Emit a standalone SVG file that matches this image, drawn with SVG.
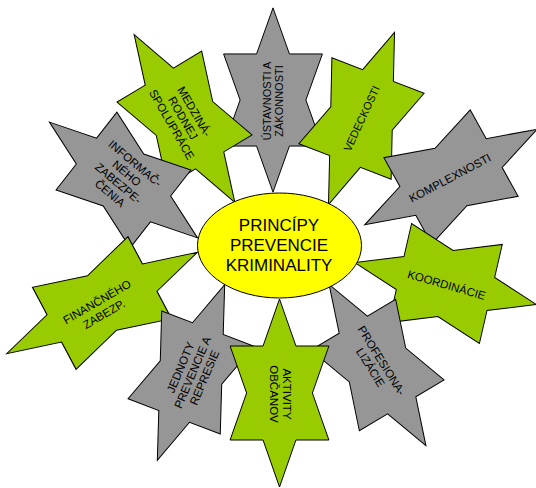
<svg xmlns="http://www.w3.org/2000/svg" xmlns:xlink="http://www.w3.org/1999/xlink" width="536" height="488" viewBox="0 0 536 488">
<style>
.g{fill:#99CC00;stroke:#000;stroke-width:1;vector-effect:non-scaling-stroke}
.s{fill:#969696;stroke:#000;stroke-width:1;vector-effect:non-scaling-stroke}
text{font-family:"Liberation Sans",Arial,sans-serif;font-size:11.5px;fill:#000;text-anchor:middle}
.c{font-size:17px}
</style>
<defs>
<polygon id="star" points="0,-94 16.45,-47 49.4,-47 32.9,0 49.4,47 16.45,47 0,94 -16.45,47 -49.4,47 -32.9,0 -49.4,-47 -16.45,-47"/>
</defs>
<g id="connectors"></g>
<g id="n-ustavnosti">
<use xlink:href="#star" href="#star" class="s" transform="translate(273,100) scale(1,0.98)"/>
<text transform="translate(273,101) rotate(-90)" style="font-size:11px"><tspan x="0" y="-2">ÚSTAVNOSTI A</tspan><tspan x="0" y="10">ZÁKONNOSTI</tspan></text>
</g>
<g id="n-medzinarodnej">
<use xlink:href="#star" href="#star" class="g" transform="translate(184.5,118.5) rotate(-31) scale(1,1.04)"/>
<text transform="translate(183,118) rotate(60)"><tspan x="0" y="-9">MEDZINÁ-</tspan><tspan x="0" y="4">RODNEJ</tspan><tspan x="0" y="17">SPOLUPRÁCE</tspan></text>
</g>
<g id="n-vedeckosti">
<use xlink:href="#star" href="#star" class="g" transform="translate(361.5,118.5) rotate(21) scale(1,0.98)"/>
<text transform="translate(361.5,118.5) rotate(-65)" style="font-size:11px"><tspan x="0" y="4">VEDECKOSTI</tspan></text>
</g>
<g id="n-informacneho">
<use xlink:href="#star" href="#star" class="s" transform="translate(123.5,180) rotate(-52)"/>
<text transform="translate(122.5,178.3) rotate(40)"><tspan x="0" y="-15.5">INFORMAČ-</tspan><tspan x="0" y="-2.5">NÉHO</tspan><tspan x="0" y="10.5">ZABEZPE-</tspan><tspan x="0" y="23.5">ČENIA</tspan></text>
</g>
<g id="n-financneho">
<use xlink:href="#star" href="#star" class="g" transform="translate(102,303) rotate(-118) scale(0.94,1.15)"/>
<text transform="translate(100.5,308) rotate(-30)"><tspan x="0" y="-3">FINANČNÉHO</tspan><tspan x="0" y="11">ZABEZP.</tspan></text>
</g>
<g id="n-jednoty">
<use xlink:href="#star" href="#star" class="s" transform="translate(191,372.5) rotate(-159)"/>
<text transform="translate(192.5,372.5) rotate(-67)"><tspan x="0" y="-9">JEDNOTY</tspan><tspan x="0" y="4">PREVENCIE A</tspan><tspan x="0" y="17">REPRESIE</tspan></text>
</g>
<g id="n-komplexnosti">
<use xlink:href="#star" href="#star" class="s" transform="translate(451,177) rotate(61) scale(1,1.05)"/>
<text transform="translate(450,178) rotate(-28)"><tspan x="0" y="4">KOMPLEXNOSTI</tspan></text>
</g>
<g id="n-koordinacie">
<use xlink:href="#star" href="#star" class="g" transform="translate(445.5,283.5) rotate(103) scale(1.03,0.99)"/>
<text transform="translate(446.5,285) rotate(16)"><tspan x="0" y="4">KOORDINÁCIE</tspan></text>
</g>
<g id="n-profesionalizacie">
<use xlink:href="#star" href="#star" class="s" transform="translate(377.5,365) rotate(149)"/>
<text transform="translate(376,364) rotate(58)"><tspan x="0" y="-2.5">PROFESIONA-</tspan><tspan x="0" y="10.5">LIZÁCIE</tspan></text>
</g>
<g id="n-aktivity">
<use xlink:href="#star" href="#star" class="g" transform="translate(279.5,393) rotate(180)"/>
<text transform="translate(280,394) rotate(90)"><tspan x="0" y="-2.5">AKTIVITY</tspan><tspan x="0" y="10.5">OBČANOV</tspan></text>
</g>
<g id="n-center">
<ellipse cx="279.5" cy="245.5" rx="82" ry="52.5" fill="#FFFF00" stroke="#000" stroke-width="1"/>
<text class="c"><tspan x="279" y="231">PRINCÍPY</tspan><tspan x="279" y="251">PREVENCIE</tspan><tspan x="279" y="271">KRIMINALITY</tspan></text>
</g>
</svg>
